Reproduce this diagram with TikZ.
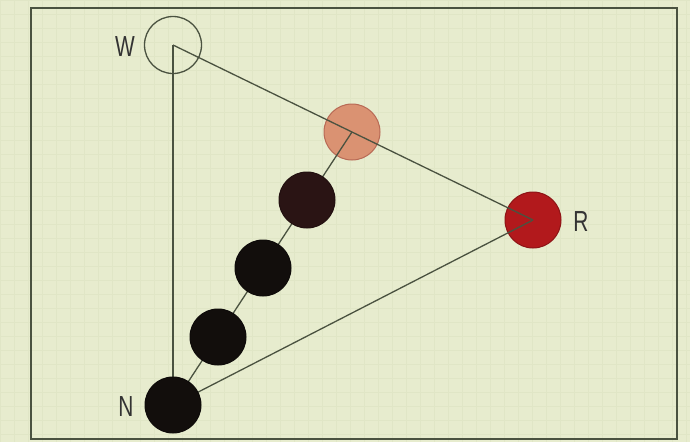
\documentclass[tikz,border=0pt]{standalone}
\usepackage{fontspec}
\setmainfont{Liberation Sans}
\definecolor{paper}{HTML}{E7ECCE}
\definecolor{gridc}{HTML}{E0E6C6}
\definecolor{ink}{HTML}{4A5240}
\definecolor{pinkc}{HTML}{DA9272}
\definecolor{pinkedge}{HTML}{B86A55}
\definecolor{redc}{HTML}{B2191C}
\definecolor{brownc}{HTML}{2A1414}
\definecolor{blackc}{HTML}{120E0C}
\tikzset{
  dot/.style={circle, minimum size=56pt, inner sep=0pt, draw=#1!80!black, line width=1pt, fill=#1},
  edge/.style={draw=ink, line width=1.3pt},
  lbl/.style={font=\fontsize{29}{29}\selectfont, text=black!80, xscale=0.72, inner sep=0pt}
}
\begin{document}
\begin{tikzpicture}[x=1pt,y=-1pt]
\useasboundingbox (0,0) rectangle (690,442);
\fill[paper] (0,0) rectangle (690,442);
\draw[gridc, step=14pt, line width=0.4pt] (0,0) grid (690,442);
\draw[ink, line width=1.4pt] (31,8) rectangle (677,439);
% light circles (below the lines)
\node[circle, minimum size=57pt, inner sep=0pt, draw=ink, line width=1.3pt] (W) at (173,45) {};
\node[dot=pinkc, draw=pinkedge] (P) at (352,132) {};
\node[dot=redc] (R) at (533,220) {};
\coordinate (n) at (173,405);
% connectors through centres
\draw[edge] (W.center) -- (R.center);
\draw[edge] (R.center) -- (n);
\draw[edge] (n) -- (W.center);
\draw[edge] (n) -- (P.center);
% dark circles (cover the lines)
\node[dot=brownc] (D3) at (307,200) {};
\node[dot=blackc] (D2) at (263,268) {};
\node[dot=blackc] (D1) at (218,337) {};
\node[dot=blackc] (N) at (n) {};
% labels
\node[lbl] (LW) at (125,47) {W};
\node[lbl] (LN) at (126,407) {N};
\node[lbl] (LR) at (581,222) {R};
\end{tikzpicture}
\end{document}
